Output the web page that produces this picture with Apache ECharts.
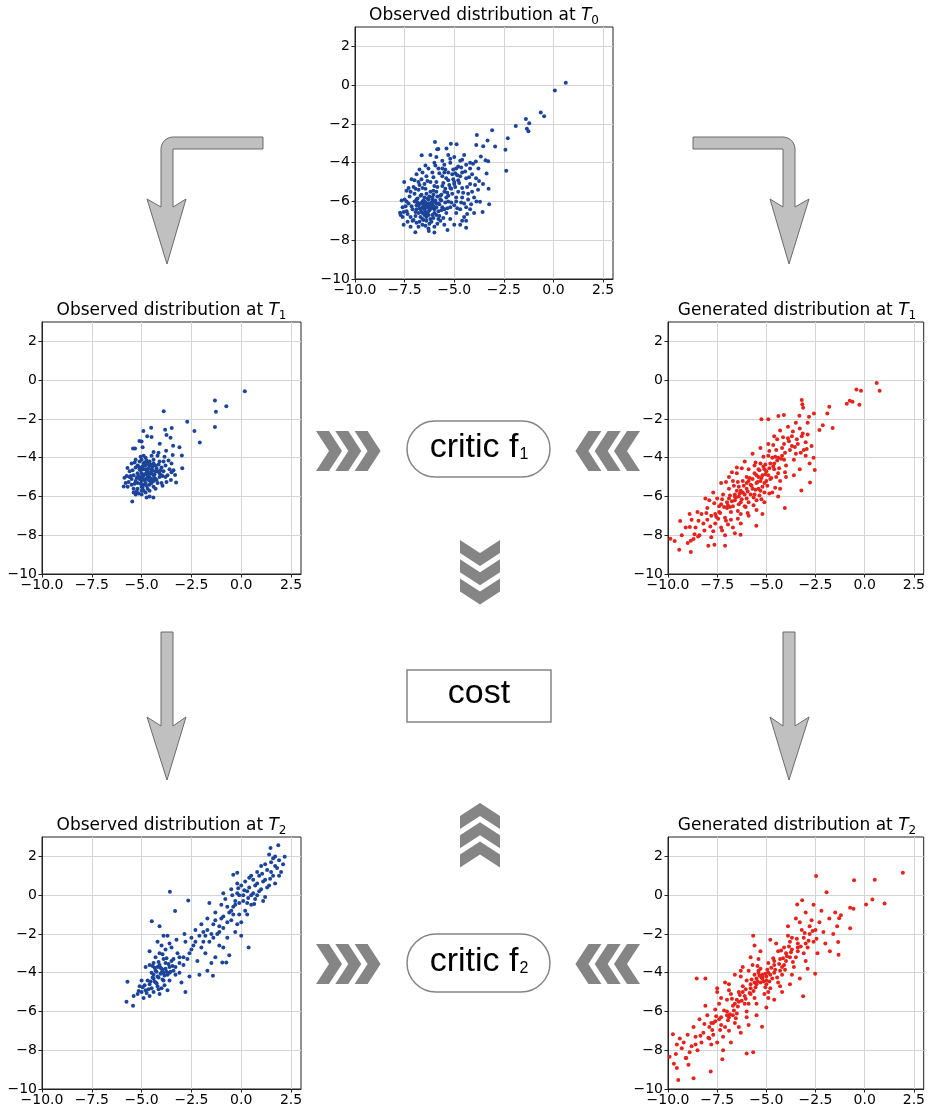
<!DOCTYPE html>
<html>
<head>
<meta charset="UTF-8">
<title>distributions</title>
<script src="https://cdn.jsdelivr.net/npm/echarts@6/dist/echarts.min.js"></script>
<style>html,body{margin:0;padding:0;background:#fff;}</style>
</head>
<body>
<div id="main" style="width:928px;height:1111px;"></div>
<script type="text/javascript">
    // tick labels
    var xTicks = [-10, -7.5, -5, -2.5, 0, 2.5];
    var yTicks = [-10, -8, -6, -4, -2, 0, 2];

    // panel titles
    var titleText = ['Observed distribution at', 'Observed distribution at', 'Generated distribution at',
                     'Observed distribution at', 'Generated distribution at'];
    var titleSub = ['0', '1', '1', '2', '2'];

    // observed at T0
    var obsT0 = [
        [-6.3,-6.1],[-6.5,-6.4],[-6.1,-5.8],[-6.8,-6.2],[-5.9,-6.3],[-6.4,-5.6],[-6.7,-6.8],[-6.0,-6.6],[-5.7,-5.9],[-6.9,-5.9],
        [-6.2,-6.9],[-6.6,-5.3],[-5.5,-5.5],[-7.1,-6.4],[-6.4,-7.0],[-5.8,-6.9],[-6.0,-5.2],[-7.0,-5.6],[-5.3,-6.0],[-6.3,-6.5],
        [-6.5,-6.0],[-6.1,-6.2],[-6.8,-6.6],[-5.6,-6.3],[-7.3,-6.1],[-6.9,-7.1],[-5.9,-5.5],[-6.2,-5.0],[-5.2,-5.3],[-5.0,-5.1],
        [-4.8,-4.9],[-5.4,-4.8],[-5.1,-4.6],[-5.6,-4.7],[-4.6,-5.3],[-4.9,-5.8],[-4.5,-6.1],[-4.7,-6.4],[-5.0,-6.2],[-5.4,-6.6],
        [-5.7,-7.0],[-6.0,-7.3],[-6.6,-7.2],[-7.2,-6.8],[-7.4,-6.5],[-7.5,-5.9],[-7.3,-5.3],[-7.0,-4.9],[-6.8,-5.0],[-6.4,-4.7],
        [-6.1,-4.5],[-5.8,-4.3],[-5.5,-4.1],[-5.2,-4.0],[-4.9,-4.3],[-4.6,-4.5],[-4.4,-4.8],[-4.2,-5.1],[-4.1,-5.5],[-4.3,-5.9],
        [-4.2,-6.4],[-4.5,-6.8],[-4.9,-6.6],[-5.2,-6.9],[-5.5,-7.2],[-6.3,-7.4],[-6.8,-7.3],[-7.1,-7.0],[-7.6,-6.8],[-7.6,-6.3],
        [-6.0,-4.0],[-6.3,-4.3],[-6.6,-4.5],[-6.9,-4.6],[-5.6,-3.9],[-5.3,-3.6],[-5.0,-3.7],[-5.9,-3.7],[-6.2,-3.6],[-4.7,-3.9],
        [-4.4,-4.1],[-4.1,-4.6],[-3.9,-4.8],[-4.0,-5.8],[-3.8,-5.4],[-4.3,-5.6],[-4.0,-6.6],[-4.4,-7.0],[-6.5,-5.8],[-6.2,-5.5],
        [-5.9,-5.0],[-5.6,-5.2],[-5.3,-4.9],[-6.7,-5.7],[-6.9,-6.4],[-6.1,-6.7],[-5.8,-6.5],[-6.4,-6.3],[-6.6,-6.0],[-6.0,-6.0],
        [-5.7,-5.7],[-5.4,-5.8],[-5.1,-5.6],[-4.8,-5.5],[-5.0,-5.0],[-4.7,-4.7],[-7.2,-5.5],[-7.4,-6.0],[-7.0,-6.0],[-6.8,-5.4],
        [-6.3,-5.9],[-6.0,-6.4],[-5.8,-6.1],[-6.5,-6.7],[-6.2,-6.3],[-6.7,-6.4],[-6.4,-6.8],[-5.5,-6.4],[-5.2,-6.3],[-4.9,-6.0],
        [-7.7,-6.7],[-7.2,-7.3],[-6.0,-7.6],[-5.0,-7.2],[-4.6,-7.0],[-5.8,-3.3],[-4.5,-3.6],[-4.2,-4.0],[-4.8,-4.2],[-5.5,-4.5],
        [-6.5,-5.1],[-6.6,-6.3],[-6.1,-5.9],[-6.3,-6.7],[-5.9,-6.7],[-6.6,-6.9],[-5.3,-5.7],[-4.6,-5.8],[-4.4,-6.3],[-4.7,-7.2],
        [-6.35,-6.25],[-6.55,-6.15],[-6.25,-6.45],[-6.45,-6.55],[-6.15,-6.05],[-6.75,-6.35],[-6.05,-6.25],[-6.85,-6.05],[-6.35,-5.85],[-6.65,-5.65],
        [-6.95,-6.75],[-6.25,-7.15],[-5.95,-5.95],[-5.75,-6.15],[-5.65,-5.65],[-5.45,-5.35],[-5.25,-5.15],[-5.05,-4.85],[-4.85,-4.65],[-5.35,-5.55],
        [-5.15,-5.35],[-4.95,-5.25],[-4.75,-5.05],[-5.55,-5.05],[-5.85,-5.25],[-6.05,-5.45],[-6.45,-5.35],[-6.75,-5.15],[-7.05,-5.25],[-7.25,-5.75],
        [-7.15,-6.25],[-7.35,-6.65],[-7.05,-6.95],[-6.75,-7.05],[-6.45,-7.25],[-6.15,-7.05],[-5.85,-7.15],[-5.55,-6.85],[-5.35,-6.35],[-5.15,-6.05],
        [-4.85,-6.35],[-4.65,-6.05],[-4.55,-5.55],[-4.35,-5.25],[-4.25,-4.75],[-4.65,-4.25],[-5.05,-4.35],[-5.45,-4.35],[-5.75,-4.55],[-6.05,-4.75],
        [-6.35,-4.95],[-6.65,-4.85],[-6.95,-5.35],[-7.45,-6.25],[-7.55,-6.55],[-6.55,-6.95],[-6.95,-6.55],[-6.05,-6.85],[-5.75,-6.75],[-5.45,-6.05],
        [-5.65,-6.45],[-6.65,-6.55],[-6.85,-5.85],[-6.45,-6.05],[-6.25,-5.75],[-6.05,-5.65],[-5.85,-5.75],[-5.65,-5.95],[-6.55,-5.95],[-6.35,-6.65],
        [-6.15,-6.35],[-6.5,-6.3],[-6.3,-6.3],[-6.7,-6.1],[-6.9,-6.2],[-5.9,-6.1],[-6.1,-6.1],[-6.6,-6.6],[-6.4,-6.2],[-6.2,-6.2],
        [-4.45,-4.45],[-4.2,-4.3],[-4.05,-4.05],[-3.95,-5.15],[-3.75,-4.95],[-3.55,-5.1],[-4.15,-6.15],[-4.35,-6.65],[-5.95,-4.15],[-6.45,-4.15],
        [-5.6,-4.3],[-5.3,-4.5],[-4.95,-4.55],[-5.2,-3.8],[-4.6,-3.85],[-6.75,-4.35],[-7.15,-4.85],[-7.4,-5.45],[-7.65,-5.95],[-7.35,-7.05],
        [0.62,0.13],[0.07,-0.28],[-0.64,-1.41],[-0.47,-1.6],[-1.39,-1.75],[-1.22,-1.97],[-1.34,-2.25],[-1.26,-2.38],[-1.9,-2.11],
        [-3.09,-2.33],[-3.86,-2.57],[-2.3,-2.74],[-3.32,-2.85],[-2.94,-3.17],[-3.54,-3.15],[-3.89,-3.09],[-2.42,-3.33],[-2.38,-4.42],
        [-3.29,-3.92],[-3.66,-3.68],[-3.42,-3.87],[-3.91,-3.94],[-3.78,-4.3],[-3.37,-4.56],[-3.27,-5.35],[-3.24,-6.15],[-3.57,-6.54],
        [-3.7,-6.01],[-3.88,-6.0],[-4.4,-7.35],[-5.34,-7.47],[-6.28,-7.52],[-6.96,-7.59],[-7.55,-7.2],[-7.73,-6.58],[-7.52,-5.0],
        [-5.97,-2.93],[-5.17,-3.02],[-4.88,-3.05],[-5.86,-3.31],[-6.64,-3.62],[-5.39,-3.27]
    ];

    // observed at T1
    var obsT1 = [
        [-4.9,-4.9],[-5.1,-5.1],[-4.7,-4.7],[-5.0,-4.5],[-4.6,-5.0],[-5.2,-4.8],[-4.8,-5.3],[-5.3,-5.2],[-4.5,-4.6],[-5.0,-5.5],
        [-4.4,-4.9],[-5.4,-4.9],[-4.7,-4.3],[-5.1,-4.2],[-4.3,-4.4],[-5.5,-5.4],[-4.9,-5.7],[-5.2,-5.6],[-4.6,-5.4],[-4.2,-4.7],
        [-4.0,-4.5],[-4.1,-4.2],[-3.9,-4.7],[-4.4,-4.1],[-4.8,-4.0],[-5.3,-4.5],[-5.6,-5.0],[-5.7,-5.5],[-5.4,-5.8],[-5.0,-5.9],
        [-4.7,-5.6],[-4.5,-5.3],[-4.3,-5.1],[-4.1,-5.0],[-3.8,-4.4],[-4.6,-4.4],[-5.0,-4.8],[-4.8,-5.1],[-5.2,-5.3],[-4.9,-4.3],
        [-5.1,-4.6],[-4.4,-5.5],[-4.2,-5.3],[-5.6,-4.7],[-5.3,-5.9],[-4.8,-5.8],[-4.5,-4.8],[-4.7,-5.0],[-5.0,-5.2],[-5.2,-4.4],
        [-4.6,-4.2],[-4.3,-4.7],[-4.0,-4.9],[-3.9,-4.2],[-4.2,-3.9],[-4.5,-3.9],[-4.9,-3.9],[-5.3,-4.1],[-5.5,-4.3],[-5.8,-5.3],
        [-5.4,-5.6],[-4.9,-5.4],[-4.6,-5.7],[-4.3,-5.6],[-4.0,-5.3],[-4.1,-4.8],[-5.1,-5.0],[-4.8,-4.6],[-4.5,-5.1],[-5.0,-4.1],
        [-3.7,-4.9],[-3.6,-4.6],[-3.8,-5.0],[-4.4,-4.3],[-4.7,-4.9],[-5.2,-5.0],[-5.5,-5.1],[-5.0,-5.7],[-4.8,-4.4],[-4.4,-5.2],
        [-4.85,-4.85],[-4.95,-5.05],[-4.75,-4.75],[-5.05,-4.65],[-4.65,-4.95],[-5.15,-4.95],[-4.85,-5.15],[-4.55,-4.75],[-4.95,-4.45],[-4.65,-4.55],
        [-4.45,-4.65],[-5.25,-5.05],[-5.35,-5.35],[-5.05,-5.35],[-4.75,-5.45],[-4.55,-5.25],[-4.35,-5.05],[-4.25,-4.55],[-4.55,-4.35],[-4.85,-4.25],
        [-5.15,-4.45],[-5.45,-4.65],[-5.55,-4.95],[-5.65,-5.25],[-5.25,-5.75],[-4.95,-5.55],[-4.65,-5.15],[-4.35,-4.85],[-4.15,-4.35],[-4.05,-4.65],
        [-3.95,-4.95],[-4.25,-5.15],[-4.75,-4.15],[-5.05,-3.95],[-5.35,-4.25],[-5.75,-4.95],[-4.45,-4.45],[-4.9,-4.6],[-4.6,-4.8],[-5.0,-5.0],
        [-3.5,-4.3],[-3.65,-4.15],[-3.85,-3.95],[-4.15,-3.75],[-4.4,-3.7],[-3.4,-4.65],[-3.75,-5.25],[-3.95,-5.45],[-4.6,-6.0],[-5.15,-5.85],
        [0.18,-0.57],[-1.32,-1.05],[-0.75,-1.34],[-1.27,-1.63],[-1.32,-2.42],[-2.08,-3.22],[-2.35,-2.62],[-2.71,-2.14],
        [-3.89,-1.61],[-3.49,-2.47],[-3.82,-2.56],[-3.75,-2.83],[-3.55,-2.97],[-4.52,-2.45],[-4.91,-2.62],[-4.72,-2.9],
        [-4.5,-2.93],[-3.1,-3.46],[-2.98,-3.89],[-2.96,-4.55],[-3.42,-3.38],[-3.44,-3.86],[-4.09,-3.28],[-3.77,-3.64],
        [-3.5,-4.75],[-3.32,-4.89],[-3.27,-5.28],[-3.53,-5.15],[-4.41,-6.05],[-4.75,-6.05],[-5.47,-6.26],[-5.9,-5.49],
        [-5.86,-5.04],[-5.71,-4.53],[-5.43,-3.53],[-5.33,-3.53],[-5.11,-3.14],[-5.0,-3.16],[-4.95,-3.46]
    ];

    // generated at T1
    var genT1 = [
        [-5.8,-5.4],[-6.2,-5.8],[-5.4,-5.0],[-6.6,-6.2],[-5.0,-4.7],[-7.0,-6.3],[-4.6,-4.3],[-7.4,-6.8],[-4.2,-3.9],[-7.8,-7.0],
        [-3.8,-3.6],[-8.2,-7.4],[-3.4,-3.3],[-8.6,-7.6],[-6.0,-5.0],[-5.6,-5.9],[-6.4,-5.5],[-5.2,-5.5],[-6.8,-6.8],[-4.8,-5.1],
        [-7.2,-5.9],[-4.4,-4.8],[-7.6,-7.4],[-4.0,-4.4],[-8.0,-6.6],[-3.6,-4.1],[-8.4,-8.0],[-3.2,-2.9],[-6.5,-4.8],[-5.3,-4.3],
        [-6.1,-6.5],[-5.5,-6.2],[-6.9,-5.6],[-4.9,-3.9],[-7.3,-7.6],[-4.5,-3.6],[-7.9,-6.2],[-4.1,-3.3],[-8.3,-6.9],[-3.7,-2.9],
        [-5.9,-4.6],[-6.3,-6.9],[-5.1,-5.8],[-6.7,-5.2],[-4.7,-4.0],[-7.1,-7.1],[-4.3,-5.2],[-7.5,-6.1],[-3.9,-3.0],[-5.7,-3.8],
        [-6.0,-6.1],[-5.4,-5.6],[-6.6,-5.9],[-5.0,-5.2],[-7.0,-6.6],[-4.6,-4.6],[-7.7,-7.8],[-4.2,-3.5],[-5.6,-4.4],[-6.4,-6.4],
        [-5.2,-4.9],[-6.8,-7.2],[-4.8,-4.3],[-7.3,-6.4],[-4.4,-4.0],[-7.6,-6.9],[-3.5,-3.8],[-3.1,-3.6],[-2.9,-2.8],[-3.0,-3.9],
        [-2.8,-4.3],[-3.3,-4.6],[-3.6,-4.9],[-4.0,-5.0],[-4.3,-5.6],[-4.7,-5.8],[-5.1,-6.3],[-5.5,-6.7],[-5.9,-7.0],[-6.3,-7.4],
        [-6.7,-7.6],[-7.1,-8.0],[-6.1,-4.2],[-6.5,-4.5],[-6.9,-5.0],[-7.3,-5.3],[-7.7,-5.8],[-8.1,-6.1],[-8.5,-6.8],[-8.8,-7.2],
        [-9.1,-7.6],[-9.3,-8.0],[-5.3,-3.5],[-4.9,-3.3],[-4.6,-2.9],[-4.3,-2.6],[-3.9,-2.4],[-3.5,-2.2],[-3.3,-2.5],[-2.9,-2.2],
        [-5.8,-5.9],[-5.5,-5.3],[-6.2,-5.2],[-6.0,-5.6],[-5.7,-5.1],[-5.3,-5.7],[-6.4,-6.0],[-5.9,-6.3],[-6.5,-5.7],[-5.1,-5.3],
        [-5.6,-4.8],[-4.9,-4.9],[-6.7,-6.5],[-6.3,-5.7],[-5.4,-4.6],[-4.5,-5.0],[-4.1,-4.1],[-3.7,-3.4],[-7.4,-6.5],[-8.0,-7.2],
        [-3.0,-3.2],[-2.7,-3.4],[-2.6,-4.0],[-8.7,-8.2],[-9.0,-8.4],[-8.9,-6.9],[-7.8,-8.1],[-6.6,-7.9],[-5.2,-6.9],[-4.4,-6.0],
        [-5.75,-5.45],[-5.95,-5.75],[-5.45,-5.25],[-6.15,-5.45],[-5.25,-5.05],[-6.35,-5.85],[-5.05,-4.85],[-6.55,-6.05],[-4.85,-4.55],[-6.75,-6.25],
        [-4.65,-4.45],[-6.95,-6.45],[-4.45,-4.15],[-7.15,-6.55],[-4.25,-4.05],[-7.35,-6.85],[-4.05,-3.75],[-7.55,-7.05],[-5.65,-6.05],[-5.85,-5.05],
        [-6.05,-6.55],[-5.35,-4.65],[-6.45,-6.75],[-5.15,-4.45],[-6.65,-5.45],[-4.95,-5.45],[-6.85,-5.95],[-4.75,-5.05],[-7.05,-7.25],[-4.55,-3.95],
        [-6.25,-6.15],[-5.55,-5.65],[-6.45,-5.25],[-5.35,-5.95],[-6.85,-6.55],[-5.05,-4.35],[-7.25,-6.15],[-4.85,-3.65],[-7.65,-6.35],[-4.35,-4.55],
        [-5.9,-5.2],[-5.7,-5.6],[-6.1,-5.9],[-6.3,-6.3],[-5.5,-4.9],[-6.6,-6.0],[-6.0,-5.3],[-5.3,-5.2],[-5.1,-4.6],[-6.9,-6.1],
        [-3.85,-3.15],[-3.45,-3.05],[-3.65,-2.65],[-3.15,-2.75],[-2.95,-3.55],[-3.25,-3.75],[-3.55,-3.45],[-4.05,-4.75],[-4.55,-5.55],[-4.15,-2.95],
        [-8.15,-7.75],[-8.45,-7.25],[-8.05,-6.85],[-7.85,-7.55],[-8.65,-7.95],[-7.45,-7.15],[-7.25,-7.75],[-6.95,-7.45],[-6.45,-7.15],[-5.95,-6.85],
        [-5.65,-6.45],[-5.25,-6.15],[-4.85,-5.85],[-6.25,-4.55],[-6.75,-4.75],[-7.05,-5.25],[-5.55,-4.25],[-5.15,-3.95],[-4.65,-3.35],[-4.45,-3.05],
        [0.61,-0.15],[0.76,-0.55],[-0.42,-0.48],[-0.19,-0.55],[-0.76,-1.06],[-0.62,-1.11],[-0.91,-1.22],[-0.27,-1.27],
        [-1.8,-1.37],[-1.9,-1.72],[-1.63,-2.47],[-2.13,-2.33],[-2.3,-2.57],[-2.58,-1.72],[-3.2,-1.03],[-3.17,-1.24],
        [-3.13,-1.42],[-2.83,-1.89],[-3.32,-1.84],[-4.11,-1.8],[-4.39,-1.85],[-4.9,-2.02],[-5.25,-2.02],[-2.54,-4.63],
        [-2.78,-5.28],[-3.22,-5.69],[-4.06,-6.59],[-5.51,-7.51],[-6.31,-7.98],[-7.1,-8.54],[-7.64,-8.49],[-7.95,-8.54],
        [-8.84,-8.87],[-9.43,-8.75],[-9.88,-8.18],[-9.66,-8.3],[-9.38,-7.26],[-8.84,-8.28],[-8.47,-8.06],[-8.89,-7.58]
    ];

    // observed at T2
    var obsT2 = [
        [-4.0,-4.0],[-4.2,-4.2],[-3.8,-3.8],[-4.4,-4.3],[-3.6,-3.7],[-4.1,-3.6],[-3.9,-4.4],[-4.6,-4.6],[-4.3,-3.9],[-3.7,-4.1],
        [-4.5,-4.0],[-4.8,-4.9],[-5.0,-5.0],[-4.7,-4.4],[-4.2,-4.7],[-3.5,-3.4],[-3.4,-3.9],[-3.9,-3.3],[-4.1,-3.0],[-3.8,-2.8],
        [-3.6,-2.5],[-4.0,-2.6],[-4.3,-3.2],[-4.6,-3.6],[-5.0,-4.4],[-5.2,-5.1],[-4.9,-5.3],[-4.4,-5.0],[-4.0,-4.8],[-3.6,-4.4],
        [-3.3,-4.1],[-3.1,-3.5],[-3.2,-3.0],[-3.5,-2.7],[-4.2,-2.4],[-4.4,-3.5],[-4.8,-3.7],[-5.1,-4.7],[-5.4,-5.2],[-4.6,-5.2],
        [-4.1,-5.1],[-3.7,-4.9],[-3.0,-4.5],[-2.8,-5.0],[-2.6,-4.2],[-3.1,-4.0],[-3.9,-4.0],[-4.3,-4.5],[-4.5,-4.8],[-3.8,-3.5],
        [-4.0,-3.8],[-4.2,-3.7],[-4.4,-4.1],[-3.6,-4.0],[-3.4,-3.3],[-4.1,-1.6],[-3.9,-2.1],[-4.6,-2.9],
        [-2.9,-3.2],[-2.6,-3.0],[-2.4,-2.6],[-2.2,-3.4],[-2.0,-2.7],[-2.5,-2.2],[-2.8,-2.4],[-1.8,-3.0],[-1.6,-2.4],[-1.9,-1.9],
        [-2.3,-1.8],[-1.5,-3.5],[-1.3,-3.2],[-1.1,-2.6],[-1.7,-3.9],[-2.1,-4.1],[-0.95,-3.48],[-0.75,-3.48],[-1.42,-4.16],
        [-2.0,-1.5],[-1.7,-1.2],[-1.4,-1.5],[-1.2,-2.0],[-0.9,-1.7],[-1.0,-1.2],[-0.7,-2.2],[-0.5,-1.3],[-0.3,-1.9],[-0.6,-0.9],
        [-1.3,-0.9],[-1.6,-0.4],[-1.0,-0.5],[-0.8,-0.2],[-0.4,-0.6],[-0.2,0.1],[-0.5,0.3],[-0.1,-0.4],[0.1,0.0],[0.2,-0.8],
        [0.0,-1.4],[0.3,-1.0],[0.5,-0.5],[0.4,0.4],[0.6,0.1],[0.8,0.6],[0.7,-0.2],[1.0,0.3],[0.9,1.0],[1.2,0.8],
        [1.1,-0.3],[1.4,0.5],[1.3,1.3],[1.6,1.0],[1.5,1.7],[1.8,1.4],[1.7,0.6],[2.0,1.2],[1.9,1.8],[0.5,1.0],
        [0.2,0.7],[-0.2,0.6],[-0.4,-1.0],[-0.7,-0.6],[-1.1,-1.6],[-1.4,-2.2],[-1.8,-2.1],[-0.9,-2.7],[-0.6,-3.1],[0.0,-2.1],
        [0.6,0.8],[1.0,1.5],[1.2,-0.1],[0.8,0.0],[-0.3,-0.3],[2.1,1.6],[1.7,2.0],[0.3,-0.4],[-0.1,-1.0],[-0.9,0.1],
        [-4.05,-4.05],[-4.15,-4.25],[-3.95,-3.85],[-4.25,-3.95],[-3.85,-4.15],[-4.35,-4.45],[-4.45,-4.25],[-3.75,-3.95],[-4.05,-3.75],[-3.95,-4.35],
        [-4.25,-4.55],[-4.55,-4.45],[-4.65,-4.85],[-4.85,-4.65],[-4.35,-3.75],[-4.15,-3.45],[-3.65,-3.55],[-3.75,-3.25],[-3.95,-3.05],[-4.45,-3.65],
        [-3.55,-3.95],[-3.45,-3.65],[-4.75,-5.05],[-4.95,-4.75],[-5.15,-4.95],[-3.85,-4.65],[-4.15,-4.85],[-3.3,-3.7],[-3.1,-3.2],[-2.9,-3.6],
        [-2.7,-3.3],[-2.5,-2.8],[-2.3,-2.4],[-2.1,-2.1],[-1.9,-2.4],[-1.7,-1.8],[-1.5,-2.0],[-1.3,-1.3],[-1.1,-1.9],[-0.9,-1.1],
        [-0.7,-1.4],[-0.5,-0.8],[-0.3,-0.5],[-0.1,0.0],[0.1,-0.3],[0.3,0.2],[0.5,0.0],[0.7,0.5],[0.9,0.2],[1.1,0.7],
        [1.3,0.4],[1.5,1.2],[1.7,1.5],[0.0,0.5],[0.4,0.9],[0.8,1.2],[1.2,1.6],[1.6,1.9],[1.9,1.0],[-0.2,-1.5],
        [0.15,0.25],[0.35,-0.15],[-0.15,0.35],[1.05,1.1],[1.45,0.85],[0.65,-0.45],[-0.45,0.0],[-3.25,-2.3],[-2.85,-2.0],[-3.7,-2.1],
        [-0.4,1.05],[-0.2,1.15],[-3.58,0.17],[-2.66,-0.27],[0.37,-2.7],[-4.49,-1.35],[-5.71,-4.47],[-5.76,-5.5],[-5.43,-5.7],
        [-3.32,-0.82],[2.18,1.98],[1.86,2.58],[1.47,2.43],[1.4,2.1]
    ];

    // generated at T2
    var genT2 = [
        [-5.2,-4.3],[-5.5,-4.6],[-4.9,-4.0],[-5.8,-4.8],[-4.6,-3.6],[-6.1,-5.2],[-4.3,-3.3],[-6.4,-5.5],[-4.0,-3.0],[-6.7,-5.7],
        [-3.7,-2.8],[-7.0,-6.0],[-3.4,-2.5],[-7.3,-6.3],[-3.1,-2.2],[-7.6,-6.5],[-2.8,-2.0],[-7.9,-6.8],[-2.5,-1.8],[-8.2,-7.1],
        [-5.3,-3.8],[-5.0,-4.6],[-5.6,-4.1],[-4.7,-4.3],[-5.9,-5.6],[-4.4,-2.9],[-6.2,-4.7],[-4.1,-3.6],[-6.5,-6.1],[-3.8,-2.4],
        [-6.8,-5.1],[-3.5,-3.2],[-7.1,-6.8],[-3.2,-1.8],[-7.4,-5.6],[-2.9,-2.7],[-7.7,-7.2],[-2.6,-2.4],[-8.0,-6.2],[-8.3,-7.6],
        [-5.4,-3.3],[-5.1,-5.1],[-5.7,-3.6],[-4.8,-4.8],[-6.0,-6.3],[-4.5,-2.5],[-6.3,-4.2],[-4.2,-4.1],[-6.6,-6.6],[-3.9,-2.1],
        [-6.9,-4.6],[-3.6,-3.7],[-7.2,-7.3],[-3.3,-1.4],[-7.5,-5.0],[-3.0,-3.4],[-7.8,-7.7],[-2.7,-1.3],[-8.1,-5.7],[-8.4,-6.4],
        [-5.3,-4.5],[-5.2,-4.1],[-5.5,-4.3],[-5.0,-4.2],[-5.8,-5.1],[-4.9,-3.5],[-6.1,-5.6],[-4.6,-4.0],[-6.4,-5.0],[-4.3,-3.9],
        [-6.7,-6.2],[-4.0,-3.4],[-7.0,-5.4],[-3.7,-2.2],[-7.3,-6.7],[-3.4,-2.9],[-7.6,-5.9],[-3.1,-3.0],[-7.9,-7.4],[-2.8,-1.6],
        [-8.6,-7.3],[-8.8,-7.8],[-9.0,-7.2],[-9.3,-7.9],[-8.5,-8.0],[-9.1,-8.4],[-8.7,-6.8],[-9.4,-7.4],[-2.3,-1.4],[-2.1,-1.9],
        [-2.0,-2.5],[-1.8,-1.2],[-1.6,-2.0],[-1.5,-0.9],[-2.2,-0.8],[-2.4,-3.0],[-2.6,-0.5],[-3.0,-0.9],[-2.9,-3.8],[-3.3,-4.3],
        [-3.8,-4.6],[-4.2,-5.0],[-4.6,-5.4],[-5.0,-5.8],[-5.5,-6.2],[-5.9,-6.7],[-6.3,-7.1],[-6.8,-7.6],[-7.2,-8.0],[-5.8,-3.2],
        [-6.2,-3.7],[-6.6,-4.1],[-7.1,-4.5],[-7.5,-4.8],[-8.1,-4.3],[-5.6,-2.6],[-5.3,-2.9],[-4.8,-2.3],[-6.0,-4.4],[-5.6,-5.3],
        [-6.5,-5.4],[-4.4,-4.5],[-5.4,-3.9],[-4.9,-5.0],[-6.9,-6.3],[-7.7,-6.6],[-3.9,-1.6],[-3.5,-1.2],[-4.1,-2.7],[-1.4,-1.6],
        [-5.25,-4.25],[-5.15,-4.45],[-5.35,-4.15],[-5.45,-4.45],[-5.05,-4.05],[-5.55,-4.75],[-4.95,-3.85],[-5.65,-4.95],[-4.75,-3.75],[-5.85,-5.05],
        [-4.55,-3.85],[-6.05,-5.35],[-4.35,-3.55],[-6.25,-5.45],[-4.15,-3.25],[-6.45,-5.75],[-3.95,-3.15],[-6.65,-5.95],[-3.75,-2.95],[-6.85,-6.15],
        [-5.45,-3.65],[-5.05,-4.75],[-5.75,-4.35],[-4.85,-4.45],[-6.05,-4.85],[-4.65,-3.25],[-6.35,-5.15],[-4.45,-4.25],[-6.55,-6.35],[-4.25,-2.85],
        [-6.75,-5.35],[-4.05,-3.85],[-6.95,-6.45],[-3.85,-2.65],[-7.15,-5.95],[-3.65,-3.45],[-7.35,-6.95],[-3.45,-2.25],[-7.55,-6.25],[-3.25,-2.65],
        [-7.75,-6.95],[-3.05,-1.95],[-7.95,-7.35],[-2.85,-2.35],[-8.15,-6.65],[-2.65,-1.85],[-8.35,-7.25],[-2.45,-2.25],[-5.2,-4.2],[-5.4,-4.0],
        [-5.6,-4.5],[-5.0,-4.4],[-5.8,-4.6],[-4.8,-4.1],[-6.2,-5.0],[-4.6,-3.4],[-6.6,-5.6],[-4.2,-3.7],[-7.0,-6.2],[-3.8,-3.2],
        [-7.4,-6.4],[-3.4,-2.7],[-7.8,-6.6],[-3.0,-2.5],[-8.6,-7.7],[-8.9,-8.1],[-9.2,-7.6],[-9.6,-8.2],[-7.5,-7.6],[-6.9,-7.0],
        [-6.4,-6.8],[-6.0,-6.0],[-5.5,-5.6],[-4.9,-5.3],[-4.3,-4.7],[-3.7,-4.1],[-6.3,-3.9],[-6.9,-4.9],[-7.3,-5.3],[-5.9,-3.9],
        [1.94,1.16],[0.51,0.8],[-0.54,0.77],[-2.47,0.99],[-1.94,0.15],[1.01,-0.43],[0.39,-0.22],[0.07,-0.48],[-0.74,-0.65],
        [-0.57,-0.7],[-0.74,-1.71],[-1.21,-1.04],[-1.3,-1.19],[-1.35,-2.42],[-1.33,-3.07],[-1.77,-2.9],[-3.18,-0.26],
        [-3.43,-0.48],[-2.52,-4.06],[-3.13,-5.22],[-5.22,-6.79],[-5.67,-8.11],[-6.0,-8.17],[-7.24,-8.46],[-7.83,-9.1],
        [-8.7,-9.44],[-9.48,-9.54],[-9.55,-8.92],[-9.92,-8.33],[-9.7,-8.7],[-9.07,-8.4],[-8.96,-8.75],[-9.55,-7.7],
        [-9.75,-7.17],[-8.54,-4.3],[-5.67,-2.1]
    ];

    var panelData = [obsT0, obsT1, genT1, obsT2, genT2];
    var panelColor = ['#1c4599', '#1c4599', '#e5231d', '#1c4599', '#e5231d'];
    var panelBox = [
        {left: 355, top: 27, width: 258},
        {left: 42, top: 322, width: 259},
        {left: 668, top: 322, width: 258},
        {left: 42, top: 837, width: 259},
        {left: 668, top: 837, width: 258}
    ];
    var boxH = 252;

    function minus(v, d) {
        var s = d ? Math.abs(v).toFixed(d) : String(Math.abs(v));
        return (v < 0 ? '\u2212' : '') + s;
    }

    var myChart = echarts.init(document.getElementById('main'));

    var grid = [], xAxis = [], yAxis = [], series = [], title = [];
    for (var i = 0; i < 5; i++) {
        var b = panelBox[i];
        grid.push({left: b.left, top: b.top, width: b.width, height: boxH,
            show: true, borderColor: '#222', borderWidth: 1, backgroundColor: '#fff'});
        xAxis.push({
            type: 'value', gridIndex: i, min: -10, max: 3,
            axisLine: {show: true, onZero: false, lineStyle: {color: '#222'}},
            axisTick: {show: true, length: 3.5, lineStyle: {color: '#222'}, customValues: xTicks},
            axisLabel: {customValues: xTicks, margin: 4, color: '#000', fontSize: 14, fontFamily: 'DejaVu Sans',
                formatter: function (v) { return minus(v, 1); }},
            splitLine: {show: true, lineStyle: {color: '#d4d4d4', width: 1}}
        });
        yAxis.push({
            type: 'value', gridIndex: i, min: -10, max: 3,
            axisLine: {show: true, onZero: false, lineStyle: {color: '#222'}},
            axisTick: {show: true, length: 3.5, lineStyle: {color: '#222'}, customValues: yTicks},
            axisLabel: {customValues: yTicks, margin: 5, color: '#000', fontSize: 14, fontFamily: 'DejaVu Sans',
                formatter: function (v) { return minus(v, 0); }},
            splitLine: {show: true, lineStyle: {color: '#d4d4d4', width: 1}}
        });
        series.push({
            type: 'scatter', xAxisIndex: i, yAxisIndex: i,
            data: panelData[i], symbolSize: 4, silent: true,
            itemStyle: {color: panelColor[i], opacity: 1}
        });
        title.push({
            text: titleText[i] + ' {it|T}{sub|' + titleSub[i] + '}',
            left: b.left + b.width / 2, top: b.top - 22, textAlign: 'center', padding: 0,
            textStyle: {
                fontFamily: 'DejaVu Sans', fontSize: 17, fontWeight: 'normal', color: '#000', lineHeight: 22,
                rich: {
                    it: {fontFamily: 'DejaVu Sans', fontSize: 17, fontStyle: 'italic', color: '#000', lineHeight: 22},
                    sub: {fontFamily: 'DejaVu Sans', fontSize: 12, color: '#000', lineHeight: 12, verticalAlign: 'bottom'}
                }
            }
        });
    }

    // ---- diagram shapes ----
    var arrowStyle = {fill: '#c0c0c0', stroke: '#6a6a6a', lineWidth: 1};
    var chevStyle = {fill: '#858585'};

    function mirror(pts) {
        return pts.map(function (p) { return [956 - p[0], p[1]]; });
    }

    // bent arrow (top left), with rounded outer corner
    var bent = [[263, 137]];
    for (var a = 0; a <= 6; a++) {
        var ang = -Math.PI / 2 - a * (Math.PI / 2) / 6;
        bent.push([173 + 12 * Math.cos(ang), 149 + 12 * Math.sin(ang)]);
    }
    bent = bent.concat([[161, 207], [147, 199], [167, 264], [186, 199], [173, 207], [173, 149], [263, 149]]);

    var straight = [[161, 632], [173, 632], [173, 726], [186, 717], [167, 780], [147, 717], [161, 726]];

    function chevRight(x0, yc) {
        return [[x0, yc - 20], [x0 + 13, yc - 20], [x0 + 26, yc], [x0 + 13, yc + 20], [x0, yc + 20], [x0 + 13, yc]];
    }
    function chevDown(xc, y0) {
        return [[xc - 20, y0], [xc, y0 + 13], [xc + 20, y0], [xc + 20, y0 + 13], [xc, y0 + 26], [xc - 20, y0 + 13]];
    }
    function chevUp(xc, y0) {
        return [[xc, y0], [xc + 20, y0 + 13], [xc + 20, y0 + 26], [xc, y0 + 13], [xc - 20, y0 + 26], [xc - 20, y0 + 13]];
    }

    var graphics = [];
    function poly(pts, style) {
        graphics.push({type: 'polygon', shape: {points: pts}, style: style, silent: true});
    }
    poly(bent, arrowStyle);
    poly(mirror(bent), arrowStyle);
    poly(straight, arrowStyle);
    poly(mirror(straight), arrowStyle);

    [451, 964].forEach(function (yc) {
        for (var k = 0; k < 3; k++) {
            var c = chevRight(316 + k * 19.3, yc);
            poly(c, chevStyle);
            poly(mirror(c), chevStyle);
        }
    });
    for (var k = 0; k < 3; k++) {
        poly(chevDown(480, 540 + k * 19.3), chevStyle);
        poly(chevUp(480, 803 + k * 19.3), chevStyle);
    }

    var boxStyle = {fill: '#fff', stroke: '#858585', lineWidth: 1.5};
    graphics.push({type: 'rect', shape: {x: 407, y: 421, width: 143, height: 56, r: 28}, style: boxStyle, silent: true});
    graphics.push({type: 'rect', shape: {x: 407, y: 934, width: 143, height: 58, r: 29}, style: boxStyle, silent: true});
    graphics.push({type: 'rect', shape: {x: 407, y: 670, width: 144, height: 52}, style: boxStyle, silent: true});

    var labelFont = 'Liberation Sans, Arial, sans-serif';
    function label(txt, x, y) {
        graphics.push({type: 'text', x: x, y: y, silent: true,
            style: {text: txt, fill: '#000', fontSize: 34, fontFamily: labelFont, lineHeight: 40,
                align: 'center', verticalAlign: 'middle',
                rich: {s: {fontSize: 16, fontFamily: labelFont, fill: '#000', verticalAlign: 'bottom', padding: [0, 0, 5, 1]}}}});
    }
    label('critic f{s|1}', 479, 448);
    label('cost', 479, 694);
    label('critic f{s|2}', 479, 962);

    myChart.setOption({
        animation: false,
        backgroundColor: '#fff',
        title: title,
        grid: grid,
        xAxis: xAxis,
        yAxis: yAxis,
        series: series,
        graphic: {elements: graphics}
    });
</script>
</body>
</html>
